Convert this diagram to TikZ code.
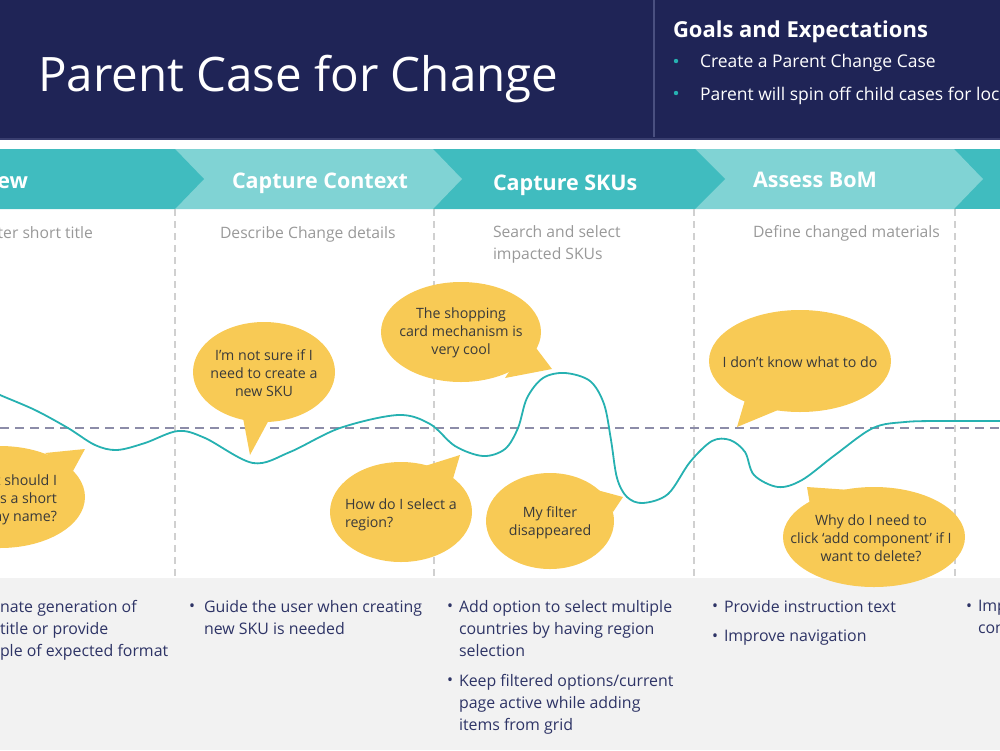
\documentclass[tikz,border=0pt]{standalone}
\usepackage{fontspec}
\setmainfont{Open Sans}
\usetikzlibrary{shapes.geometric}
\definecolor{navy}{HTML}{1F2456}
\definecolor{navyline}{HTML}{4A5080}
\definecolor{tealdark}{HTML}{40BCBF}
\definecolor{teallight}{HTML}{80D3D4}
\definecolor{curvecol}{HTML}{26B1B1}
\definecolor{bubcol}{HTML}{F8CA55}
\definecolor{subgray}{HTML}{999999}
\definecolor{bottomtxt}{HTML}{2E3466}
\definecolor{panel}{HTML}{F2F2F2}
\definecolor{vdash}{HTML}{D0D0D0}
\definecolor{hdash}{HTML}{8C8CA8}
\definecolor{bubtxt}{HTML}{3A3A3A}
\begin{document}
\begin{tikzpicture}[x=1pt,y=-1pt,
  txt/.style={inner sep=0pt, outer sep=0pt},
  stagetitle/.style={txt, anchor=base west, text=white, font=\fontsize{21.5}{26}\selectfont\bfseries},
  subtitle/.style={txt, anchor=north west, align=left, text=subgray, font=\fontsize{15.7}{21}\selectfont},
  bubtext/.style={txt, text=bubtxt, font=\fontsize{14.2}{17.8}\selectfont},
  bottomtext/.style={txt, anchor=north west, align=left, text=bottomtxt, font=\fontsize{15.9}{22}\selectfont},
  bul/.style={txt, anchor=base west, text=bottomtxt, font=\fontsize{15.9}{22}\selectfont},
  bub/.style={fill=bubcol, draw=none},
  stagesep/.style={draw=vdash, line width=1.2pt, dash pattern=on 7pt off 5pt}
]
\useasboundingbox (0,0) rectangle (1000,750);
\clip (0,0) rectangle (1000,750);
% header
\fill[navy] (0,0) rectangle (1000,139);
\fill[navyline!60!navy] (0,138) rectangle (1000,140);
\coordinate (hdivtop) at (654,0);
\coordinate (hdivbot) at (654,137);
\draw[navyline, line width=2pt] (hdivtop) -- (hdivbot);
\node[txt, anchor=base west, text=white, font=\fontsize{47.5}{56}\selectfont] (title) at (38,91) {Parent Case for Change};
\node[txt, anchor=base west, text=white, font=\fontsize{22}{27}\selectfont\bfseries] (goals) at (673,37) {Goals and Expectations};
\fill[curvecol] (676,61) circle (2.2);
\fill[curvecol] (676,93) circle (2.2);
\node[txt, anchor=base west, text=white, font=\fontsize{17.5}{22}\selectfont] (g1) at (700,67) {Create a Parent Change Case};
\node[txt, anchor=base west, text=white, font=\fontsize{17.5}{22}\selectfont] (g2) at (700,100) {Parent will spin off child cases for local};
% chevron bar (right to left)
\fill[tealdark] (954,149) -- (1005,149) -- (1005,209) -- (954,209) -- cycle;
\fill[teallight] (695,149) -- (954,149) -- (983,179) -- (954,209) -- (695,209) -- cycle;
\fill[tealdark] (433,149) -- (695,149) -- (725,179) -- (695,209) -- (433,209) -- cycle;
\fill[teallight] (175,149) -- (433,149) -- (462,179) -- (433,209) -- (175,209) -- cycle;
\fill[tealdark] (-5,149) -- (175,149) -- (204,179) -- (175,209) -- (-5,209) -- cycle;
\node[stagetitle, anchor=base east] (s1) at (28,188) {ew};
\node[stagetitle] (s2) at (232,188) {Capture Context};
\node[stagetitle] (s3) at (493,190) {Capture SKUs};
\node[stagetitle] (s4) at (753,187) {Assess BoM};
% subtitles
\node[subtitle, anchor=base east] (d1) at (93,238) {ter short title};
\node[subtitle, anchor=base west] (d2) at (220,238) {Describe Change details};
\node[subtitle, anchor=base west] (d3a) at (493,237) {Search and select};
\node[subtitle, anchor=base west] (d3b) at (493,259) {impacted SKUs};
\node[subtitle, anchor=base west] (d4) at (753,237) {Define changed materials};
% bottom panel
\fill[panel] (0,578) rectangle (1000,750);
% stage separators
\foreach \xx/\nm in {175/a,434/b,694/c,955/d}{
  \coordinate (sep\nm top) at (\xx,209);
  \coordinate (sep\nm bot) at (\xx,577);
  \draw[stagesep] (sep\nm top) -- (sep\nm bot);
}
% baseline
\coordinate (baseL) at (0,428);
\coordinate (baseR) at (1000,428);
\draw[hdash, line width=1.5pt, dash pattern=on 9pt off 6pt] (baseL) -- (baseR);
% emotion curve
\draw[curvecol, line width=1.8pt] plot[smooth, tension=0.55] coordinates {
 (-10,390) (0,395) (35,410) (68,428) (95,445) (117,450) (145,443) (178,431) (205,438) (253,463)
 (290,452) (340,428) (398,415) (430,424) (455,446) (483,456) (505,449) (518,428) (527,398)
 (543,378) (565,373) (590,381) (604,404) (611,440) (617,478) (627,497) (643,503) (668,494)
 (690,462) (712,441) (730,440) (745,452) (754,475) (778,487) (802,480) (835,455) (873,428)
 (905,422) (940,421) (1010,421)};
% bubbles
\fill[bub] (85,449) -- (45,453) -- (73,471) -- cycle;
\fill[bub] (0,497) ellipse [x radius=85, y radius=51];
\fill[bub] (250,455) -- (243,418) -- (270,418) -- cycle;
\fill[bub] (264,372) ellipse [x radius=71, y radius=50];
\fill[bub] (552,369) -- (530,340) -- (505,378) -- cycle;
\fill[bub] (461,332) ellipse [x radius=80, y radius=50];
\fill[bub] (460,455) -- (425,466) -- (452,482) -- cycle;
\fill[bub] (401,512) ellipse [x radius=71, y radius=50];
\fill[bub] (623,497) -- (597,490) -- (613,512) -- cycle;
\fill[bub] (550,521) ellipse [x radius=64, y radius=48];
\fill[bub] (737,427) -- (745,400) -- (778,410) -- cycle;
\fill[bub] (800,361) ellipse [x radius=91, y radius=51];
\fill[bub] (807,487) -- (810,505) -- (850,490) -- cycle;
\fill[bub] (874,537) ellipse [x radius=91, y radius=50];
% bubble texts (base anchor = last line baseline)
\node[bubtext, anchor=base east, align=right] (q1) at (57,521) {t should I\\s a short\\ay name?};
\node[bubtext, anchor=base, align=center] (q2) at (264,396) {I’m not sure if I\\need to create a\\new SKU};
\node[bubtext, anchor=base, align=center] (q3) at (461,354) {The shopping\\card mechanism is\\very cool};
\node[bubtext, anchor=base west, align=left] (q4) at (345,527) {How do I select a\\region?};
\node[bubtext, anchor=base, align=center] (q5) at (550,535) {My filter\\disappeared};
\node[bubtext, anchor=base] (q6) at (800,367) {I don’t know what to do};
\node[bubtext, anchor=base, align=center] (q7) at (871,561) {Why do I need to\\click ‘add component’ if I\\want to delete?};
% bottom recommendations
\node[bottomtext] (r1) at (0,600) {nate generation of\\title or provide\\ple of expected format};
\node[bul] (b2) at (189,611) {•};
\node[bottomtext] (r2) at (204,600) {Guide the user when creating\\new SKU is needed};
\node[bul] (b3a) at (447,611) {•};
\node[bottomtext] (r3a) at (459,600) {Add option to select multiple\\countries by having region\\selection};
\node[bul] (b3b) at (447,685) {•};
\node[bottomtext] (r3b) at (459,674) {Keep filtered options/current\\page active while adding\\items from grid};
\node[bul] (b4a) at (712,611) {•};
\node[bottomtext] (r4a) at (724,600) {Provide instruction text};
\node[bul] (b4b) at (712,641) {•};
\node[bottomtext] (r4b) at (724,630) {Improve navigation};
\node[bul] (b5) at (966,611) {•};
\node[bottomtext] (r5) at (978,600) {Imp\\con};
\end{tikzpicture}
\end{document}
